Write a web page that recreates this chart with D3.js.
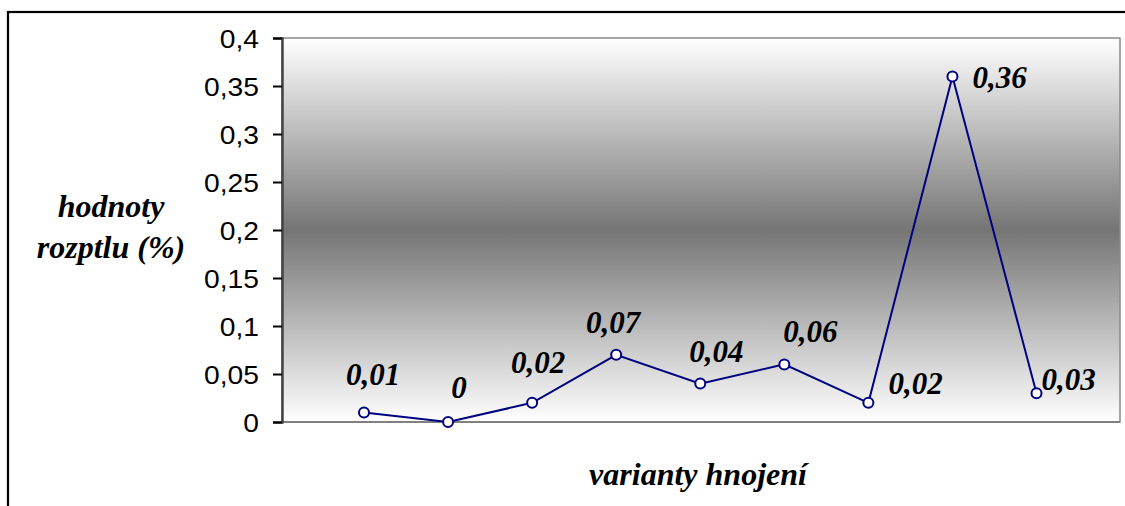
<!DOCTYPE html>
<html>
<head>
<meta charset="utf-8">
<script src="https://cdn.jsdelivr.net/npm/d3@7"></script>
<style>
  body { margin: 0; background: #fff; }
  .tick text { font-family: 'Liberation Sans'; }
</style>
</head>
<body>
<div id="chart"></div>
<script>
'use strict';

// hodnoty rozptylu pro jednotlive varianty hnojeni
const variants = [1, 2, 3, 4, 5, 6, 7, 8, 9];
const values = [0.01, 0, 0.02, 0.07, 0.04, 0.06, 0.02, 0.36, 0.03];
const labels = ['0,01', '0', '0,02', '0,07', '0,04', '0,06', '0,02', '0,36', '0,03'];
const yTicks = [0, 0.05, 0.1, 0.15, 0.2, 0.25, 0.3, 0.35, 0.4];

// posun popisku (rucne, jako v Excelu)
const labelNudge = [
  { dx: 9, dy: -27, anchor: 'middle' },
  { dx: 11, dy: -24, anchor: 'middle' },
  { dx: 6, dy: -30, anchor: 'middle' },
  { dx: -3, dy: -22, anchor: 'middle' },
  { dx: 16, dy: -22, anchor: 'middle' },
  { dx: 26, dy: -22, anchor: 'middle' },
  { dx: 20, dy: -9, anchor: 'start' },
  { dx: 20, dy: 12, anchor: 'start' },
  { dx: 5, dy: -3, anchor: 'start' }
];

function serifText(sel, size) {
  return sel
    .style('font-family', 'serif', 'important')
    .style('font-weight', 'bold')
    .style('font-style', 'italic')
    .style('font-size', size + 'px');
}

function drawChart(elementID, width, height) {
  const svg = d3.select('#' + elementID)
    .append('svg')
    .attr('width', width)
    .attr('height', height)
    .style('display', 'block');

  // ramecek kolem celeho grafu
  svg.append('rect')
    .attr('x', 8).attr('y', 12)
    .attr('width', width + 20).attr('height', height + 20)
    .attr('fill', 'none')
    .attr('stroke', '#000')
    .attr('stroke-width', 2.2);

  const left = 282, top = 38, right = 1120, bottom = 422;

  const x = d3.scaleLinear().domain([1, 9]).range([364, 1036.5]);
  const y = d3.scaleLinear().domain([0, 0.4]).range([bottom, top]);

  const grad = svg.append('defs').append('linearGradient')
    .attr('id', 'bg')
    .attr('x1', 0).attr('y1', 0).attr('x2', 0).attr('y2', 1);
  grad.append('stop').attr('offset', '0%').attr('stop-color', '#ffffff');
  grad.append('stop').attr('offset', '50%').attr('stop-color', '#757575');
  grad.append('stop').attr('offset', '100%').attr('stop-color', '#ffffff');

  svg.append('rect')
    .attr('x', left).attr('y', top)
    .attr('width', right - left).attr('height', bottom - top)
    .attr('fill', 'url(#bg)')
    .attr('stroke', '#8a8a8a')
    .attr('stroke-width', 1.5);

  // osa x (jen cara)
  svg.append('line')
    .attr('x1', left).attr('x2', right)
    .attr('y1', bottom).attr('y2', bottom)
    .attr('stroke', '#808080')
    .attr('stroke-width', 2);

  const yAxis = svg.append('g')
    .attr('transform', `translate(${left},0)`)
    .call(d3.axisLeft(y)
      .tickValues(yTicks)
      .tickSize(9)
      .tickPadding(14)
      .tickFormat(d => d3.format('~g')(d).replace('.', ',')));

  yAxis.attr('font-family', null);
  yAxis.select('.domain').attr('stroke', '#444').attr('stroke-width', 2.5);
  yAxis.selectAll('.tick line').attr('stroke', '#000').attr('stroke-width', 2);
  yAxis.selectAll('.tick text')
    .attr('font-size', 25)
    .attr('fill', '#000')
    .attr('x', -23 / 1.13)
    .attr('dy', '0.36em')
    .attr('transform', 'scale(1.13,1)');

  const line = d3.line()
    .x((d, i) => x(variants[i]))
    .y(d => y(d));

  svg.append('path')
    .datum(values)
    .attr('d', line)
    .attr('fill', 'none')
    .attr('stroke', '#000080')
    .attr('stroke-width', 2);

  svg.selectAll('.pt')
    .data(values)
    .enter()
    .append('circle')
    .attr('class', 'pt')
    .attr('cx', (d, i) => x(variants[i]))
    .attr('cy', d => y(d))
    .attr('r', 5)
    .attr('fill', '#fff')
    .attr('stroke', '#000080')
    .attr('stroke-width', 2);

  const vals = svg.selectAll('.val')
    .data(values)
    .enter()
    .append('text')
    .attr('class', 'val')
    .attr('x', (d, i) => x(variants[i]) + labelNudge[i].dx)
    .attr('y', (d, i) => y(d) + labelNudge[i].dy)
    .attr('text-anchor', (d, i) => labelNudge[i].anchor)
    .text((d, i) => labels[i]);
  serifText(vals, 31);

  // nazvy os
  const titles = [
    { text: 'hodnoty', x: 111, y: 217 },
    { text: 'rozptlu (%)', x: 111, y: 258 },
    { text: 'varianty hnojení', x: 698, y: 485 }
  ];
  titles.forEach(t => {
    const el = svg.append('text')
      .attr('x', t.x).attr('y', t.y)
      .attr('text-anchor', 'middle')
      .text(t.text);
    serifText(el, 32);
  });
}

drawChart('chart', 1125, 506);
</script>
</body>
</html>
